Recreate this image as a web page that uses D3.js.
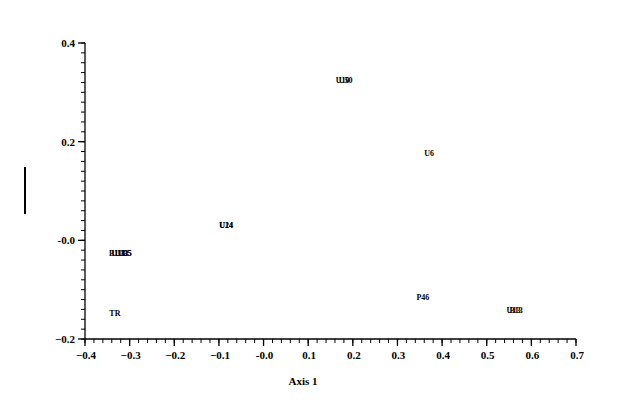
<!DOCTYPE html>
<html>
<head>
<meta charset="utf-8">
<script src="https://cdn.jsdelivr.net/npm/d3@7"></script>
<style>
  html, body { margin: 0; padding: 0; background: #fff; }
  svg { display: block; }
  text { font-family: "Liberation Serif", "Times New Roman", serif; font-weight: bold; fill: #000; }
</style>
</head>
<body>
<svg id="chart" width="624" height="413"></svg>
<script>
// ---- data ----
const pointNames = ["U10", "U50", "U6", "U24", "U14", "B11", "U18", "U33", "U35", "U5", "TR", "P46", "U13", "B13"];
const axis1Values = [0.177, 0.184, 0.371, -0.084, -0.084, -0.332, -0.325, -0.318, -0.311, -0.306, -0.333, 0.357, 0.560, 0.566];
const axis2Values = [0.325, 0.325, 0.177, 0.031, 0.031, -0.026, -0.026, -0.026, -0.026, -0.026, -0.147, -0.115, -0.141, -0.141];
const xTickValues = [-0.4, -0.3, -0.2, -0.1, 0.0, 0.1, 0.2, 0.3, 0.4, 0.5, 0.6, 0.7];
const yTickValues = [-0.2, 0.0, 0.2, 0.4];
const xAxisTitle = "Axis 1";

// ---- layout ----
const svg = d3.select("#chart");
const x = d3.scaleLinear().domain([-0.4, 0.7]).range([85, 576]);
const y = d3.scaleLinear().domain([-0.2, 0.4]).range([339, 43]);
const fmt = d => (Math.abs(d) < 1e-9 ? "-0.0" : d3.format(".1f")(d));

// minor ticks every 0.02
const xMinor = d3.range(-0.4, 0.7001, 0.02).map(v => +v.toFixed(2));
const yMinor = d3.range(-0.2, 0.4001, 0.02).map(v => +v.toFixed(2));

// X axis
const gx = svg.append("g").attr("transform", "translate(0,339)");
gx.append("line").attr("x1", x(-0.4)).attr("x2", x(0.7)).attr("stroke", "#000").attr("stroke-width", 1.3);
gx.selectAll("line.minor").data(xMinor).join("line").attr("class", "minor")
  .attr("x1", d => x(d)).attr("x2", d => x(d)).attr("y1", 0).attr("y2", 4)
  .attr("stroke", "#000").attr("stroke-width", 1);
gx.selectAll("line.major").data(xTickValues).join("line").attr("class", "major")
  .attr("x1", d => x(d)).attr("x2", d => x(d)).attr("y1", 0).attr("y2", 7)
  .attr("stroke", "#000").attr("stroke-width", 1.3);
gx.selectAll("text").data(xTickValues).join("text")
  .attr("x", d => x(d) + 1).attr("y", 20)
  .attr("text-anchor", "middle").attr("font-size", 11)
  .text(fmt);

// Y axis
const gy = svg.append("g").attr("transform", "translate(85,0)");
gy.append("line").attr("y1", y(-0.2)).attr("y2", y(0.4)).attr("stroke", "#000").attr("stroke-width", 1.3);
gy.selectAll("line.minor").data(yMinor).join("line").attr("class", "minor")
  .attr("y1", d => y(d)).attr("y2", d => y(d)).attr("x1", -4).attr("x2", 0)
  .attr("stroke", "#000").attr("stroke-width", 1);
gy.selectAll("line.major").data(yTickValues).join("line").attr("class", "major")
  .attr("y1", d => y(d)).attr("y2", d => y(d)).attr("x1", -7).attr("x2", 0)
  .attr("stroke", "#000").attr("stroke-width", 1.3);
gy.selectAll("text").data(yTickValues).join("text")
  .attr("x", -10).attr("y", d => y(d)).attr("dy", "0.35em")
  .attr("text-anchor", "end").attr("font-size", 11)
  .text(fmt);

// Axis titles
svg.append("text").attr("x", 303).attr("y", 385).attr("text-anchor", "middle")
  .attr("font-size", 11).text(xAxisTitle);
// vertical axis title rendered as a bar
svg.append("rect").attr("x", 24).attr("y", 167).attr("width", 2).attr("height", 47).attr("fill", "#000");

// Point labels
const pts = pointNames.map((n, i) => ({ name: n, a1: axis1Values[i], a2: axis2Values[i] }));
svg.append("g").selectAll("text").data(pts).join("text")
  .attr("x", d => x(d.a1)).attr("y", d => y(d.a2)).attr("dy", "0.35em")
  .attr("text-anchor", "middle").attr("font-size", 8)
  .text(d => d.name);
</script>
</body>
</html>
